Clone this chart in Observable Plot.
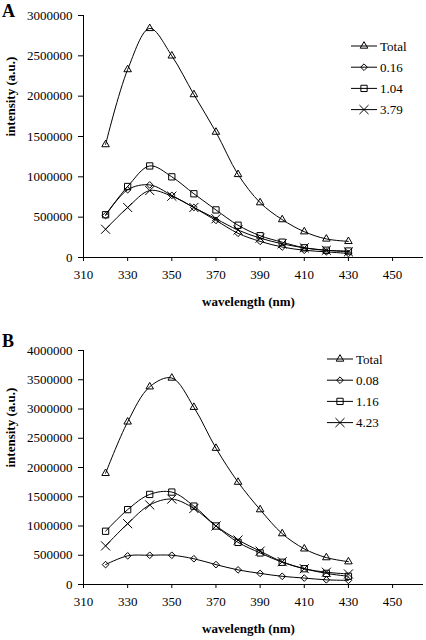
<!DOCTYPE html>
<html><head><meta charset="utf-8">
<script src="https://cdn.jsdelivr.net/npm/d3@7"></script>
<script src="https://cdn.jsdelivr.net/npm/@observablehq/plot@0.6"></script>
<style>
body{margin:0;background:#fff;font-family:"Liberation Serif",serif}
.panel{position:relative;width:426px}
.tag{position:absolute;left:2px;font:bold 18px "Liberation Serif",serif;line-height:18px;color:#000}
.legend{position:absolute}
</style></head><body>
<div id="A" class="panel"></div>
<div id="B" class="panel"></div>
<script>
const wavelengths = [320, 330, 340, 350, 360, 370, 380, 390, 400, 410, 420, 430];
const xTicks = [310, 330, 350, 370, 390, 410, 430, 450];

const seriesA = ["Total", "0.16", "1.04", "3.79"];
const A_total = [1400000, 2330000, 2840000, 2500000, 2020000, 1555000, 1030000, 680000, 470000, 320000, 230000, 200000];
const A_016   = [520000, 840000, 900000, 770000, 620000, 460000, 300000, 200000, 130000, 90000, 70000, 50000];
const A_104   = [530000, 880000, 1135000, 1000000, 790000, 590000, 400000, 270000, 190000, 120000, 90000, 80000];
const A_379   = [350000, 620000, 830000, 760000, 620000, 480000, 340000, 240000, 170000, 120000, 90000, 70000];
const yTicksA = [0, 500000, 1000000, 1500000, 2000000, 2500000, 3000000];

const seriesB = ["Total", "0.08", "1.16", "4.23"];
const B_total = [1900000, 2780000, 3380000, 3530000, 3030000, 2330000, 1750000, 1280000, 870000, 610000, 460000, 390000];
const B_008   = [340000, 490000, 500000, 500000, 440000, 340000, 250000, 190000, 140000, 110000, 80000, 70000];
const B_116   = [910000, 1280000, 1540000, 1580000, 1340000, 1000000, 720000, 540000, 380000, 270000, 190000, 140000];
const B_423   = [660000, 1040000, 1360000, 1460000, 1300000, 1000000, 760000, 570000, 390000, 270000, 210000, 180000];
const yTicksB = [0, 500000, 1000000, 1500000, 2000000, 2500000, 3000000, 3500000, 4000000];

const symbols = ["triangle2", "diamond2", "square2", "times"];
const symbolR = [3.6, 3.0, 4.0, 4.2];
const d3Sym = {triangle2: d3.symbolTriangle2, diamond2: d3.symbolDiamond2, square2: d3.symbolSquare2, times: d3.symbolTimes};

function panel(id, tag, names, values, yTicks, cfg) {
  const el = document.getElementById(id);
  const rows = [];
  names.forEach((n, i) => wavelengths.forEach((w, j) => rows.push({series: n, idx: i, x: w, y: values[i][j]})));
  const marks = [
    Plot.ruleY([0], {stroke: "#000"}),
    Plot.ruleX([310], {stroke: "#000"}),
    Plot.axisX({ticks: xTicks, tickFormat: "d", tickSize: 4, tickPadding: 8, label: null, fontSize: 13}),
    Plot.axisY({ticks: yTicks, tickFormat: "d", tickSize: 5, tickPadding: 6, label: null, fontSize: 13}),
    Plot.text(["wavelength (nm)"], {frameAnchor: "bottom", dy: 48, dx: -5, fontWeight: "bold", fontSize: 13}),
    Plot.text(["intensity (a.u.)"], {frameAnchor: "left", dx: -73, rotate: -90, fontWeight: "bold", fontSize: 13})
  ];
  names.forEach((n, i) => {
    const d = rows.filter(r => r.idx === i);
    marks.push(Plot.line(d, {x: "x", y: "y", curve: "catmull-rom", stroke: "#000", strokeWidth: 1}));
    marks.push(Plot.dot(d, {x: "x", y: "y", symbol: () => symbols[i], r: symbolR[i], stroke: "#000", fill: "none", strokeWidth: 1}));
  });
  const chart = Plot.plot({
    width: 426, height: cfg.height,
    marginLeft: 83, marginRight: 3, marginTop: cfg.mt, marginBottom: cfg.mb,
    style: {fontFamily: "Liberation Serif, serif", fontSize: "13px", color: "#000", background: "#fff"},
    x: {domain: [310, 464]},
    y: {domain: [0, yTicks[yTicks.length - 1]]},
    symbol: {type: "identity"},
    marks
  });
  el.style.height = cfg.height + "px";
  el.appendChild(chart);

  const t = document.createElement("div");
  t.className = "tag"; t.textContent = tag; t.style.top = cfg.tagTop + "px";
  el.appendChild(t);

  const lg = d3.create("svg").attr("class", "legend").attr("width", 80).attr("height", 95)
    .style("left", cfg.legLeft + "px").style("top", cfg.legTop + "px");
  names.forEach((n, i) => {
    const cy = 11 + i * 21.2;
    const g = lg.append("g");
    g.append("line").attr("x1", 6).attr("x2", 32).attr("y1", cy).attr("y2", cy).attr("stroke", "#000");
    g.append("path").attr("d", d3.symbol(d3Sym[symbols[i]], Math.PI * symbolR[i] * symbolR[i])())
      .attr("transform", `translate(19,${cy})`).attr("fill", "none").attr("stroke", "#000");
    g.append("text").attr("x", 35).attr("y", cy).attr("dy", "0.35em")
      .attr("font-family", "Liberation Serif, serif").attr("font-size", 13).text(n);
  });
  el.appendChild(lg.node());
}

panel("A", "A", seriesA, [A_total, A_016, A_104, A_379], yTicksA,
  {height: 322, mt: 15, mb: 65, tagTop: 2, legLeft: 345, legTop: 35});
panel("B", "B", seriesB, [B_total, B_008, B_116, B_423], yTicksB,
  {height: 318, mt: 28, mb: 56, tagTop: 10, legLeft: 321, legTop: 26});
</script>
</body></html>
